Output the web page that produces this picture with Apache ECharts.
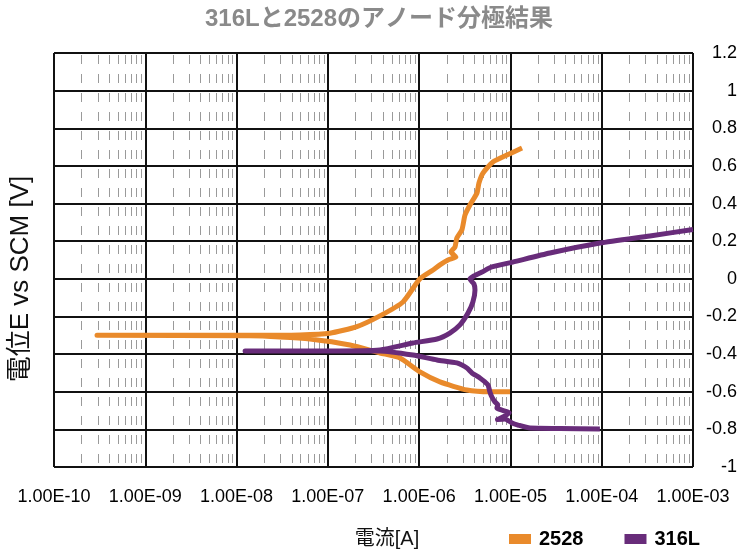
<!DOCTYPE html>
<html>
<head>
<meta charset="utf-8">
<script src="https://cdn.jsdelivr.net/npm/echarts@6/dist/echarts.min.js"></script>
<style>
  html, body { margin: 0; padding: 0; background: #fff; }
  #chart { width: 741px; height: 549px; }
</style>
</head>
<body>
<div id="chart"></div>
<script>
// Anodic polarization curves: current [A] (log scale) vs potential E vs SCM [V]
const seriesNames = ['2528', '316L'];

const current2528 = [9.9e-6, 5.96e-6, 3.34e-6, 1.69e-6, 1.02e-6, 6.17e-7, 3.72e-7, 1.75e-7, 6.37e-8, 2.99e-8,
  1.40e-8, 2.96e-10, 1.40e-8, 4.94e-8, 1.05e-7, 2.08e-7, 3.72e-7, 6.65e-7, 1.02e-6, 1.42e-6,
  1.69e-6, 2.07e-6, 2.53e-6, 2.23e-6, 2.47e-6, 2.59e-6, 2.94e-6, 3.18e-6, 3.60e-6, 4.30e-6,
  4.52e-6, 5.00e-6, 6.43e-6, 9.16e-6, 1.34e-5];
const potential2528 = [-0.600, -0.600, -0.591, -0.548, -0.495, -0.421, -0.394, -0.352, -0.320, -0.309,
  -0.303, -0.300, -0.300, -0.298, -0.289, -0.254, -0.197, -0.123, 0.000, 0.047,
  0.074, 0.100, 0.116, 0.143, 0.169, 0.217, 0.260, 0.339, 0.392, 0.456,
  0.509, 0.562, 0.621, 0.658, 0.695];

const current316L = [9.55e-5, 3.48e-5, 1.64e-5, 1.21e-5, 1.04e-5, 8.72e-6, 7.20e-6, 9.70e-6, 7.11e-6, 7.30e-6,
  6.76e-6, 6.27e-6, 5.96e-6, 5.68e-6, 5.26e-6, 4.63e-6, 3.79e-6, 3.34e-6, 2.59e-6, 1.57e-6,
  8.55e-7, 3.72e-7, 1.05e-7, 1.24e-8, 1.05e-7, 3.72e-7, 8.55e-7, 1.57e-6, 2.17e-6, 2.80e-6,
  3.43e-6, 3.88e-6, 4.09e-6, 3.98e-6, 3.60e-6, 3.98e-6, 4.88e-6, 6.27e-6, 1.06e-5, 2.71e-5,
  9.55e-5, 3.37e-4, 1.0e-3];
const potential316L = [-0.798, -0.795, -0.793, -0.777, -0.766, -0.745, -0.748, -0.713, -0.686, -0.670,
  -0.654, -0.628, -0.601, -0.564, -0.548, -0.527, -0.500, -0.474, -0.447, -0.431,
  -0.405, -0.383, -0.383, -0.383, -0.383, -0.378, -0.341, -0.320, -0.288, -0.245,
  -0.182, -0.123, -0.059, -0.027, -0.001, 0.015, 0.036, 0.063, 0.089, 0.137,
  0.190, 0.228, 0.262];

const xTickExponents = [-10, -9, -8, -7, -6, -5, -4, -3];
const xTickLabels = ['1.00E-10', '1.00E-09', '1.00E-08', '1.00E-07', '1.00E-06', '1.00E-05', '1.00E-04', '1.00E-03'];
const minorMultipliers = [2, 3, 4, 5, 6, 7, 8, 9];

const Y_MIN = -1, Y_MAX = 1.2;

// dashed minor gridlines at 2..9 x each decade
const minorTickValues = [];
xTickExponents.slice(0, -1).forEach(e => {
  minorMultipliers.forEach(m => minorTickValues.push([m * Math.pow(10, e), Y_MIN]));
});

const zip = (xs, ys) => xs.map((x, i) => [x, ys[i]]);

const FONT = "'Liberation Sans', Arial, 'Noto Sans CJK JP', sans-serif";
const chart = echarts.init(document.getElementById('chart'), null, { renderer: 'canvas' });

chart.setOption({
  animation: false,
  backgroundColor: '#fff',
  grid: { left: 54, top: 53, width: 639, height: 414, containLabel: false },
  xAxis: {
    type: 'log',
    logBase: 10,
    min: 1e-10,
    max: 1e-3,
    splitNumber: 7,
    axisLine: { show: false },
    axisTick: { show: false },
    axisLabel: {
      margin: 21,
      color: '#000',
      fontSize: 18,
      fontFamily: FONT,
      showMinLabel: true,
      showMaxLabel: true,
      formatter: v => xTickLabels[xTickExponents.indexOf(Math.round(Math.log10(v)))]
    },
    splitLine: { show: true, showMaxLine: false, lineStyle: { color: '#111', width: 2 } }
  },
  yAxis: {
    type: 'value',
    position: 'right',
    min: Y_MIN,
    max: Y_MAX,
    interval: 0.2,
    axisLine: { show: false },
    axisTick: { show: false },
    axisLabel: { margin: 44, align: 'right', color: '#000', fontSize: 18, fontFamily: FONT },
    splitLine: { show: true, lineStyle: { color: '#111', width: 2 } }
  },
  legend: {
    data: seriesNames,
    left: 509,
    top: 529,
    padding: 0,
    icon: 'rect',
    itemWidth: 22,
    itemHeight: 10,
    itemGap: 41,
    textStyle: { fontSize: 20, fontWeight: 'bold', color: '#000', fontFamily: FONT, padding: [0, 0, 0, 3] }
  },
  graphic: [
    {
      type: 'text', x: 379, y: 19,
      style: { text: '316Lと2528のアノード分極結果', align: 'center', verticalAlign: 'middle',
        font: "bold 24px " + FONT, fill: '#8a8a8a' }
    },
    {
      type: 'text', x: 21, y: 279, rotation: Math.PI / 2,
      style: { text: '電位E vs SCM [V]', align: 'center', verticalAlign: 'middle',
        font: "26px " + FONT, fill: '#111' }
    },
    {
      type: 'text', x: 387, y: 539,
      style: { text: '電流[A]', align: 'center', verticalAlign: 'middle',
        font: "20px " + FONT, fill: '#111' }
    }
  ],
  series: [
    {
      type: 'custom',
      name: 'minor',
      z: 1,
      silent: true,
      encode: { x: 0, y: 1 },
      data: minorTickValues,
      renderItem: (params, api) => {
        const x = api.value(0);
        const top = api.coord([x, Y_MAX]);
        const bottom = api.coord([x, Y_MIN]);
        return {
          type: 'line',
          shape: { x1: Math.round(top[0]) + 0.5, y1: top[1], x2: Math.round(bottom[0]) + 0.5, y2: bottom[1] },
          style: { stroke: '#9a9a9a', lineWidth: 1, lineDash: [9, 10], lineDashOffset: 17 }
        };
      }
    },
    {
      name: seriesNames[0],
      type: 'line',
      data: zip(current2528, potential2528),
      showSymbol: false,
      symbol: 'none',
      smooth: 0.2,
      color: '#E98A2B',
      lineStyle: { width: 5, color: '#E98A2B', join: 'round' }
    },
    {
      name: seriesNames[1],
      type: 'line',
      data: zip(current316L, potential316L),
      showSymbol: false,
      symbol: 'none',
      smooth: 0.2,
      color: '#682C7A',
      lineStyle: { width: 5, color: '#682C7A', join: 'round' }
    }
  ]
});
</script>
</body>
</html>
